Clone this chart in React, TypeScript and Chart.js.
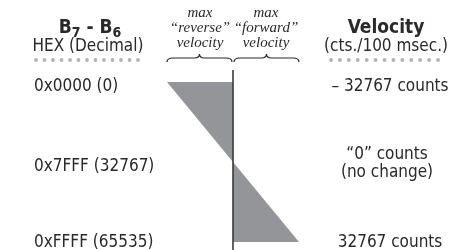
import React, { useEffect, useRef } from "react";
import { Chart, registerables } from "chart.js";

Chart.register(...registerables);

// Data: register value (B7-B6) vs resulting velocity
const registerValues = [0, 32767, 65535];
const velocities = [-32767, 0, 32767];
const hexLabels = ["0x0000 (0)", "0x7FFF (32767)", "0xFFFF (65535)"];
const velocityLabels = [["\u2013 32767 counts"], ["\u201C0\u201D counts", "(no change)"], ["32767 counts"]];
const reverseLabel = ["max", "\u201Creverse\u201D", "velocity"];
const forwardLabel = ["max", "\u201Cforward\u201D", "velocity"];

const SANS = '"DejaVu Sans Condensed", "DejaVu Sans", sans-serif';
const SERIF = '"Liberation Serif", serif';
const INK = "#2b2829";
const FILL = "#939598";
const DOT = "#b1b3b6";

function drawBrace(ctx: CanvasRenderingContext2D, x1: number, x2: number, y: number) {
  const mid = (x1 + x2) / 2;
  const h = 4;
  ctx.beginPath();
  ctx.moveTo(x1, y + h);
  ctx.quadraticCurveTo(x1, y, x1 + 6, y);
  ctx.lineTo(mid - 5, y);
  ctx.quadraticCurveTo(mid, y, mid, y - h);
  ctx.quadraticCurveTo(mid, y, mid + 5, y);
  ctx.lineTo(x2 - 6, y);
  ctx.quadraticCurveTo(x2, y, x2, y + h);
  ctx.stroke();
}

function drawDots(ctx: CanvasRenderingContext2D, x1: number, x2: number, y: number, n: number) {
  ctx.fillStyle = DOT;
  for (let i = 0; i < n; i++) {
    const x = x1 + ((x2 - x1) * i) / (n - 1);
    ctx.beginPath();
    ctx.arc(x, y, 1.9, 0, Math.PI * 2);
    ctx.fill();
  }
}

const decorPlugin = {
  id: "decor",
  afterDatasetsDraw(chart: any) {
    const ctx: CanvasRenderingContext2D = chart.ctx;
    const xs = chart.scales.x;
    const ys = chart.scales.y;
    const x0 = xs.getPixelForValue(0);
    const xL = xs.getPixelForValue(velocities[0]);
    const xR = xs.getPixelForValue(velocities[2]);
    ctx.save();
    // vertical axis line
    ctx.strokeStyle = "#3a3a3c";
    ctx.lineWidth = 1.6;
    ctx.beginPath();
    ctx.moveTo(x0, 70);
    ctx.lineTo(x0, chart.height);
    ctx.stroke();

    ctx.fillStyle = INK;
    ctx.textBaseline = "alphabetic";

    // Header left: B7 - B6
    const parts: [string, string, number][] = [
      ["B", "bold 19px " + SANS, 0],
      ["7", "bold 14px " + SANS, 4],
      [" - ", "bold 19px " + SANS, 0],
      ["B", "bold 19px " + SANS, 0],
      ["6", "bold 14px " + SANS, 4],
    ];
    let total = 0;
    for (const [t, f] of parts) { ctx.font = f; total += ctx.measureText(t).width; }
    let cx = 90 - total / 2;
    for (const [t, f, dy] of parts) {
      ctx.font = f;
      ctx.textAlign = "left";
      ctx.fillText(t, cx, 33 + dy);
      cx += ctx.measureText(t).width;
    }
    ctx.textAlign = "center";
    ctx.font = "17px " + SANS;
    ctx.fillText("HEX (Decimal)", 88, 51);
    drawDots(ctx, 36, 138, 60, 13);

    // Header right
    ctx.fillStyle = INK;
    ctx.font = "bold 19px " + SANS;
    ctx.fillText("Velocity", 386, 33);
    ctx.font = "17px " + SANS;
    ctx.fillText("(cts./100 msec.)", 386, 51);
    drawDots(ctx, 331, 438, 60, 13);

    // italic labels
    ctx.fillStyle = INK;
    ctx.font = "italic 15px " + SERIF;
    const bases = [17, 32, 47];
    const lc = (xL + x0) / 2;
    const rc = (x0 + xR) / 2;
    reverseLabel.forEach((t, i) => ctx.fillText(t, lc, bases[i]));
    forwardLabel.forEach((t, i) => ctx.fillText(t, rc, bases[i]));
    ctx.strokeStyle = INK;
    ctx.lineWidth = 1.2;
    drawBrace(ctx, xL, x0 - 1, 58);
    drawBrace(ctx, x0 + 1, xR, 58);

    // row labels
    ctx.font = "17px " + SANS;
    registerValues.forEach((v, i) => {
      const py = ys.getPixelForValue(v);
      const base = Math.min(py + 9, 247);
      ctx.fillStyle = INK;
      ctx.textAlign = "left";
      ctx.fillText(hexLabels[i], 34, base);
      ctx.textAlign = "center";
      const lines = velocityLabels[i];
      if (lines.length === 1) {
        ctx.fillText(lines[0], 390, base);
      } else {
        ctx.fillText(lines[0], 387, py - 3);
        ctx.fillText(lines[1], 387, py + 15);
      }
    });
    ctx.restore();
  },
};

export default function App() {
  const ref = useRef<HTMLCanvasElement | null>(null);
  useEffect(() => {
    document.body.style.margin = "0";
    if (!ref.current) return;
    const pts = registerValues.map((v, i) => ({ x: velocities[i], y: v }));
    const chart = new Chart(ref.current, {
      type: "line",
      data: {
        datasets: [
          {
            data: pts,
            fill: "origin",
            backgroundColor: FILL,
            borderWidth: 0,
            borderColor: "rgba(0,0,0,0)",
            pointRadius: 0,
            tension: 0,
          },
        ],
      },
      options: {
        indexAxis: "y",
        animation: false,
        responsive: true,
        maintainAspectRatio: false,
        layout: { padding: 0 },
        plugins: { legend: { display: false }, tooltip: { enabled: false } },
        scales: {
          x: { type: "linear", display: false, min: -115678, max: 115181 },
          y: { type: "linear", display: false, reverse: true, min: -33587, max: 68812 },
        },
      },
      plugins: [decorPlugin],
    } as any);
    return () => chart.destroy();
  }, []);
  return (
    <div style={{ width: 465, height: 250, position: "relative", background: "#fff" }}>
      <canvas ref={ref} />
    </div>
  );
}
